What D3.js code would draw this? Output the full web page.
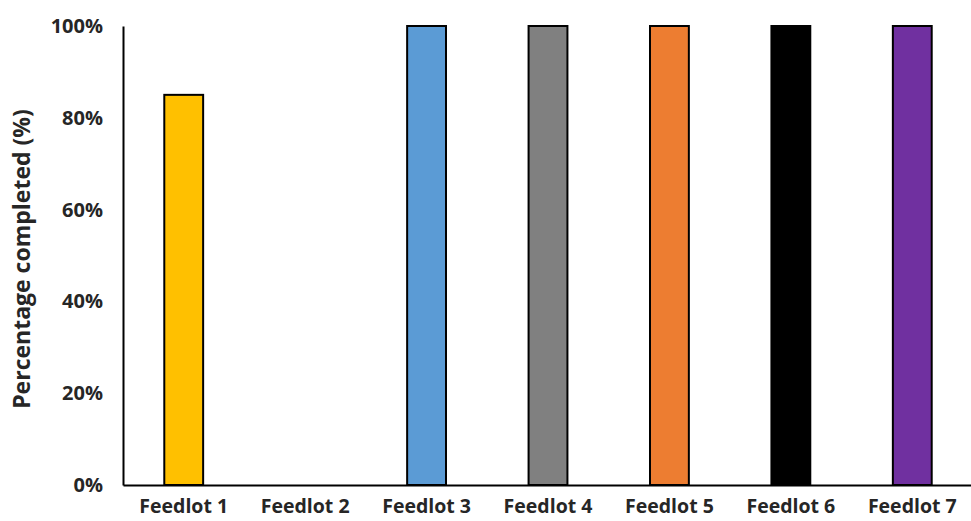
<!DOCTYPE html>
<html>
<head>
<meta charset="utf-8">
<script src="https://cdn.jsdelivr.net/npm/d3@7"></script>
<style>
  html, body { margin: 0; padding: 0; background: #fff; }
  svg text { font-family: "Open Sans", Lato, sans-serif; font-weight: bold; fill: #262626; }
</style>
</head>
<body>
<svg id="chart" width="971" height="521"></svg>
<script>
// Completion share per feedlot
const categories = ["Feedlot 1", "Feedlot 2", "Feedlot 3", "Feedlot 4", "Feedlot 5", "Feedlot 6", "Feedlot 7"];
const values = [0.85, 0, 1, 1, 1, 1, 1];
const colors = ["#FFC000", "#FFFFFF", "#5B9BD5", "#808080", "#ED7D31", "#000000", "#7030A0"];
const yTicks = [0, 0.2, 0.4, 0.6, 0.8, 1];
const yTitle = "Percentage completed (%)";

const svg = d3.select("#chart");
const margin = { left: 123, right: 0, top: 26, bottom: 36 };
const W = 971, H = 521;

const x = d3.scaleBand().domain(categories).range([margin.left, 973]).paddingInner(0.68).paddingOuter(0.34);
const y = d3.scaleLinear().domain([0, 1]).range([H - margin.bottom, margin.top]);

// bars
svg.append("g").selectAll("rect")
  .data(categories.map((c, i) => ({ c, v: values[i], col: colors[i] })).filter(d => d.v > 0))
  .join("rect")
  .attr("x", d => x(d.c))
  .attr("y", d => y(d.v))
  .attr("width", x.bandwidth())
  .attr("height", d => y(0) - y(d.v))
  .attr("fill", d => d.col)
  .attr("stroke", "#000")
  .attr("stroke-width", 2);

// y axis
const yAxis = d3.axisLeft(y).tickValues(yTicks).tickFormat(d3.format(".0%")).tickSize(0).tickPadding(20);
const gy = svg.append("g").attr("transform", `translate(${margin.left},0)`).call(yAxis);
gy.select(".domain").attr("stroke", "#000").attr("stroke-width", 2);
gy.selectAll("text").style("font-size", "20px").attr("fill", "#262626");

// x axis
const xAxis = d3.axisBottom(x).tickSize(0).tickPadding(14);
const gx = svg.append("g").attr("transform", `translate(0,${y(0)})`).call(xAxis);
gx.select(".domain").attr("stroke", "#000").attr("stroke-width", 2);
gx.selectAll("text").style("font-size", "19.5px").attr("fill", "#262626");

// y axis title
svg.append("text")
  .attr("transform", `translate(30,259) rotate(-90)`)
  .attr("text-anchor", "middle")
  .style("font-size", "23px")
  .text(yTitle);
</script>
</body>
</html>
